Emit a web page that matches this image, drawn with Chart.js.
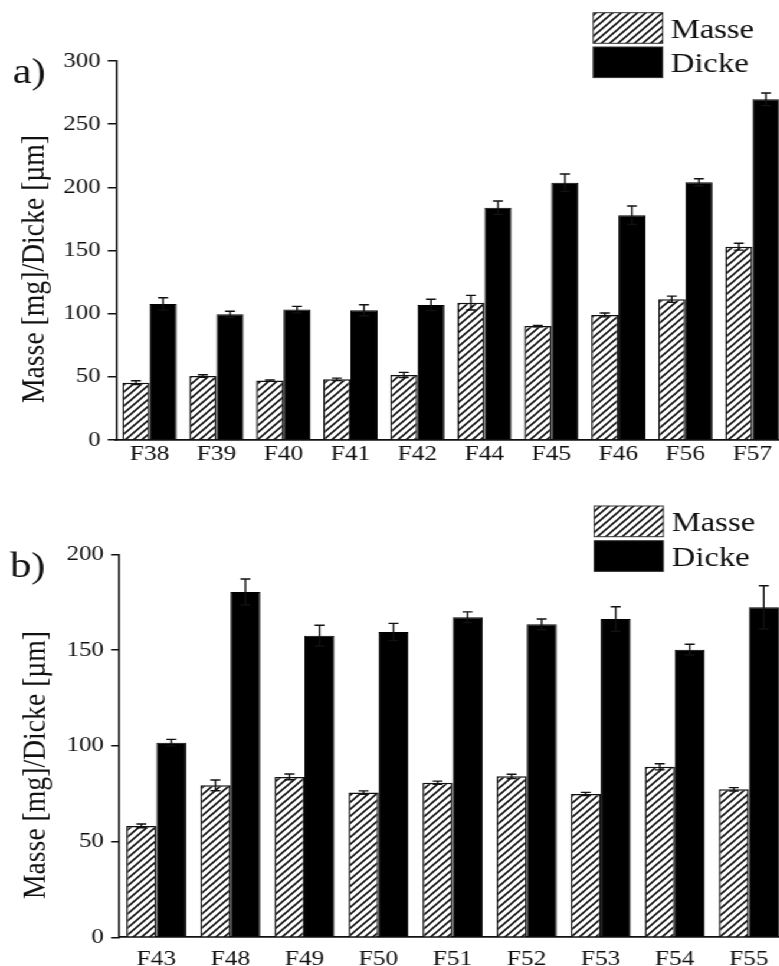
<!DOCTYPE html>
<html>
<head>
<meta charset="utf-8">
<script src="https://cdn.jsdelivr.net/npm/chart.js@4.4.1/dist/chart.umd.min.js"></script>
<style>
  html, body { margin: 0; padding: 0; background: #fff; }
  #page { width: 779px; height: 966px; overflow: hidden; position: relative; background: #fff; }
  /* the figure is laid out in narrow units and widened as a whole */
  #stretch { transform: scaleX(1.18); transform-origin: 0 0; width: 680px; }
  canvas { display: block; }
  #fontwarm { position: absolute; left: -9999px; top: 0; font-family: "Liberation Serif"; font-size: 20px; }
</style>
</head>
<body>
<div id="page">
  <div id="stretch">
    <canvas id="chartA" width="680" height="483"></canvas>
    <canvas id="chartB" width="680" height="483"></canvas>
  </div>
</div>
<span id="fontwarm">Masse Dicke F38 0123456789 µ</span>
<script>
// ---- panel a) ----
const labelsA   = ['F38', 'F39', 'F40', 'F41', 'F42', 'F44', 'F45', 'F46', 'F56', 'F57'];
const masseA    = [45.4, 50.7, 47.0, 48.0, 51.5, 108.7, 90.2, 99.0, 111.4, 153.0];
const masseErrA = [1.5, 1.0, 0.6, 1.0, 2.0, 5.8, 0.5, 1.5, 2.5, 2.7];
const dickeA    = [107.7, 99.5, 103.2, 102.7, 106.9, 183.9, 203.7, 177.9, 204.0, 269.7];
const dickeErrA = [4.9, 2.4, 2.6, 4.4, 4.5, 5.3, 6.9, 7.3, 2.8, 5.0];
const ticksA    = [0, 50, 100, 150, 200, 250, 300];

// ---- panel b) ----
const labelsB   = ['F43', 'F48', 'F49', 'F50', 'F51', 'F52', 'F53', 'F54', 'F55'];
const masseB    = [58.2, 79.4, 83.8, 75.6, 80.8, 84.1, 74.9, 89.1, 77.3];
const masseErrB = [1.0, 2.8, 1.5, 0.9, 0.8, 1.1, 0.8, 1.6, 0.9];
const dickeB    = [101.7, 180.4, 157.6, 159.5, 167.2, 163.5, 166.3, 150.3, 172.4];
const dickeErrB = [1.7, 6.8, 5.4, 4.5, 2.8, 2.8, 6.4, 2.8, 11.3];
const ticksB    = [0, 50, 100, 150, 200];

const seriesNames = ['Masse', 'Dicke'];
const yTitle = 'Masse [mg]/Dicke [µm]';

const FONT = "'Liberation Serif', 'Times New Roman', serif";
const INK = '#111111';

// diagonal hatch fill for the Masse bars
function hatchPattern(ctx) {
  const p = 7;
  const c = document.createElement('canvas');
  c.width = p; c.height = p;
  const g = c.getContext('2d');
  g.fillStyle = '#ffffff';
  g.fillRect(0, 0, p, p);
  g.strokeStyle = INK;
  g.lineWidth = 1.6;
  g.beginPath();
  g.moveTo(-1, p + 1); g.lineTo(p + 1, -1);
  g.moveTo(-1, 1); g.lineTo(1, -1);
  g.moveTo(p - 1, p + 1); g.lineTo(p + 1, p - 1);
  g.stroke();
  return ctx.createPattern(c, 'repeat');
}

// error bars: read each bar's x from its element and the ends from the y scale
const errorBars = {
  id: 'errorBars',
  afterDatasetsDraw(chart, args, opts) {
    const ctx = chart.ctx;
    const y = chart.scales.y;
    chart.data.datasets.forEach((ds, di) => {
      const meta = chart.getDatasetMeta(di);
      meta.data.forEach((bar, i) => {
        const v = ds.data[i], e = ds.errors[i];
        const top = y.getPixelForValue(v + e);
        const bot = y.getPixelForValue(v - e);
        ctx.save();
        ctx.strokeStyle = INK;
        ctx.lineWidth = opts.lineWidth;
        ctx.beginPath();
        ctx.moveTo(bar.x, top); ctx.lineTo(bar.x, bot);
        ctx.moveTo(bar.x - opts.cap, top); ctx.lineTo(bar.x + opts.cap, top);
        ctx.moveTo(bar.x - opts.cap, bot); ctx.lineTo(bar.x + opts.cap, bot);
        ctx.stroke();
        ctx.restore();
      });
    });
  }
};

// panel letter, rotated axis title and the boxed legend
const decor = {
  id: 'decor',
  afterDraw(chart, args, o) {
    const ctx = chart.ctx;
    ctx.save();
    ctx.fillStyle = INK;
    ctx.textAlign = 'left';
    ctx.textBaseline = 'alphabetic';
    ctx.font = `${o.letterSize}px ${FONT}`;
    ctx.fillText(o.letter, o.letterX, o.letterY);

    ctx.save();
    ctx.translate(o.titleX, o.titleY);
    ctx.rotate(-Math.PI / 2);
    ctx.textAlign = 'center';
    ctx.font = `${o.titleSize}px ${FONT}`;
    ctx.fillText(chart.options.scales.y.title.text, 0, 0);
    ctx.restore();

    chart.data.datasets.forEach((ds, i) => {
      const top = o.legendY + i * o.legendStep;
      ctx.fillStyle = ds.backgroundColor;
      ctx.fillRect(o.legendX, top, o.boxW, o.boxH);
      ctx.strokeStyle = '#333333';
      ctx.lineWidth = 1;
      ctx.strokeRect(o.legendX, top, o.boxW, o.boxH);
      ctx.fillStyle = INK;
      ctx.font = `${o.legendSize}px ${FONT}`;
      ctx.fillText(ds.label, o.textX, top + o.baselineOff);
    });
    ctx.restore();
  }
};

function makeChart(id, labels, masse, masseErr, dicke, dickeErr, tickValues, g) {
  const canvas = document.getElementById(id);
  const ctx = canvas.getContext('2d');
  const yMax = tickValues[tickValues.length - 1];
  return new Chart(ctx, {
    type: 'bar',
    data: {
      labels: labels,
      datasets: [
        {
          label: seriesNames[0],
          data: masse,
          errors: masseErr,
          backgroundColor: hatchPattern(ctx),
          borderColor: INK,
          borderWidth: 1.5
        },
        {
          label: seriesNames[1],
          data: dicke,
          errors: dickeErr,
          backgroundColor: '#000000',
          borderColor: '#000000',
          borderWidth: 1
        }
      ]
    },
    options: {
      responsive: false,
      animation: false,
      devicePixelRatio: 1,
      layout: { padding: { top: g.top, right: 14, bottom: 0, left: 0 } },
      datasets: { bar: { categoryPercentage: 0.81, barPercentage: 1.0 } },
      scales: {
        x: {
          grid: { display: false, drawTicks: false },
          border: { display: true, color: INK, width: 1.7 },
          ticks: { color: INK, padding: g.xPad, font: { family: FONT, size: 21.5 } },
          afterFit(scale) { scale.height = g.xHeight; }
        },
        y: {
          min: 0,
          max: yMax,
          afterBuildTicks(scale) { scale.ticks = tickValues.map(v => ({ value: v })); },
          grid: { drawOnChartArea: false, drawTicks: true, tickLength: 7, color: INK, lineWidth: 1.5 },
          border: { display: true, color: INK, width: 1.6 },
          ticks: { color: INK, padding: 6, font: { family: FONT, size: 21 } },
          title: { display: false, text: yTitle },
          afterFit(scale) { scale.width = g.yWidth; }
        }
      },
      plugins: {
        legend: { display: false },
        tooltip: { enabled: false },
        errorBars: { lineWidth: 1.4, cap: 4.2 },
        decor: g.decor
      }
    },
    plugins: [errorBars, decor]
  });
}

function drawAll() {
  makeChart('chartA', labelsA, masseA, masseErrA, dickeA, dickeErrA, ticksA, {
    top: 61, xHeight: 43, xPad: 1, yWidth: 98.3,
    decor: {
      letter: 'a)', letterSize: 36, letterX: 10.8, letterY: 83,
      titleX: 36.7, titleY: 269, titleSize: 27.7,
      legendX: 502.8, legendY: 12.7, legendStep: 34.3, boxW: 58.8, boxH: 30.6,
      textX: 568.4, baselineOff: 25, legendSize: 27.7
    }
  });

  makeChart('chartB', labelsB, masseB, masseErrB, dickeB, dickeErrB, ticksB, {
    top: 71.5, xHeight: 28.7, xPad: 9, yWidth: 101.1,
    decor: {
      letter: 'b)', letterSize: 36, letterX: 8.5, letterY: 94.3,
      titleX: 37.5, titleY: 282, titleSize: 27.7,
      legendX: 503.6, legendY: 23, legendStep: 34.7, boxW: 58.5, boxH: 30.7,
      textX: 569.2, baselineOff: 25, legendSize: 27.7
    }
  });
}

if (document.fonts && document.fonts.load) {
  Promise.all([
    document.fonts.load("21px 'Liberation Serif'"),
    document.fonts.load("21px 'Liberation Serif'", 'µ')
  ]).then(drawAll, drawAll);
} else {
  drawAll();
}
</script>
</body>
</html>
